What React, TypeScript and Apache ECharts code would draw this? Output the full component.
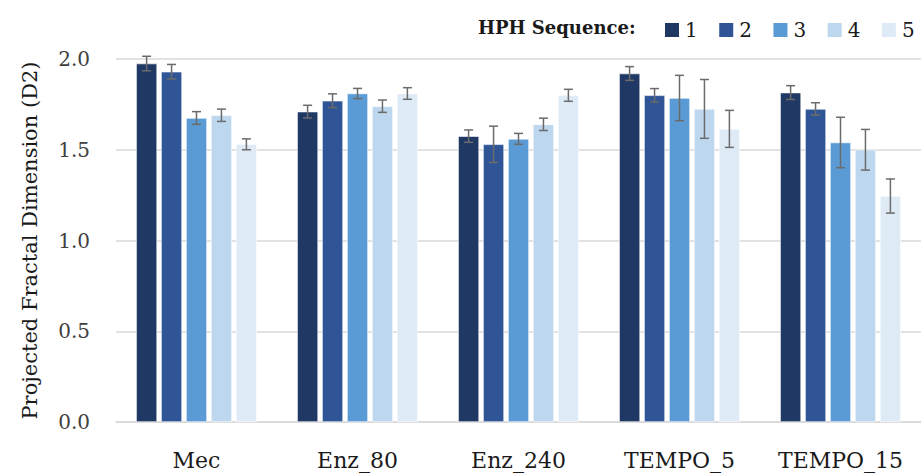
import React, { useEffect, useRef } from "react";
import * as echarts from "echarts";

const categories = ["Mec", "Enz_80", "Enz_240", "TEMPO_5", "TEMPO_15"];
const seriesNames = ["1", "2", "3", "4", "5"];
const colors = ["#203864", "#2F5597", "#5B9BD5", "#BDD7EE", "#DEEBF7"];

// values per sequence (series) across categories
const seq1 = [1.975, 1.71, 1.575, 1.92, 1.815];
const seq2 = [1.93, 1.77, 1.53, 1.8, 1.725];
const seq3 = [1.675, 1.81, 1.56, 1.785, 1.54];
const seq4 = [1.69, 1.74, 1.64, 1.725, 1.5];
const seq5 = [1.53, 1.81, 1.8, 1.615, 1.245];

const err1 = [0.04, 0.035, 0.034, 0.038, 0.038];
const err2 = [0.04, 0.038, 0.1, 0.037, 0.034];
const err3 = [0.035, 0.028, 0.03, 0.125, 0.139];
const err4 = [0.034, 0.034, 0.034, 0.162, 0.112];
const err5 = [0.03, 0.032, 0.033, 0.102, 0.094];

const yTicks = [0, 0.5, 1.0, 1.5, 2.0];

const values = [seq1, seq2, seq3, seq4, seq5];
const errors = [err1, err2, err3, err4, err5];

const FONT = "'DejaVu Serif', serif";
const CAT_GAP = 0.25;
const BAR_GAP = 0.19;

export default function App() {
  const ref = useRef<HTMLDivElement>(null);
  useEffect(() => {
    document.body.style.margin = "0";
    const chart = echarts.init(ref.current!, null, { renderer: "svg" });
    const n = seriesNames.length;
    const barSeries = seriesNames.map((name, i) => ({
      name,
      type: "bar",
      data: values[i],
      itemStyle: { color: colors[i], borderColor: "#ffffff", borderWidth: 0.6 },
      barCategoryGap: CAT_GAP * 100 + "%",
      barGap: BAR_GAP * 100 + "%",
    }));
    const errSeries = seriesNames.map((name, i) => ({
      name: "err" + name,
      type: "custom",
      data: values[i].map((v, j) => [j, v - errors[i][j], v + errors[i][j]]),
      z: 10,
      silent: true,
      renderItem: (params: any, api: any) => {
        const cat = api.value(0);
        const lo = api.value(1);
        const hi = api.value(2);
        const band = api.size([1, 0])[0];
        const bw = (band * (1 - CAT_GAP)) / (n + (n - 1) * BAR_GAP);
        const step = bw * (1 + BAR_GAP);
        const off = (i - (n - 1) / 2) * step;
        const pLo = api.coord([cat, lo]);
        const pHi = api.coord([cat, hi]);
        const x = pLo[0] + off;
        const cap = 4.5;
        const style = { stroke: "#6b6b6b", lineWidth: 1.5 };
        return {
          type: "group",
          children: [
            { type: "line", shape: { x1: x, y1: pLo[1], x2: x, y2: pHi[1] }, style },
            { type: "line", shape: { x1: x - cap, y1: pLo[1], x2: x + cap, y2: pLo[1] }, style },
            { type: "line", shape: { x1: x - cap, y1: pHi[1], x2: x + cap, y2: pHi[1] }, style },
          ],
        };
      },
    }));
    chart.setOption({
      animation: false,
      textStyle: { fontFamily: FONT },
      color: colors,
      grid: { left: 116, right: 0, top: 59, bottom: 53 },
      legend: {
        data: seriesNames,
        left: 663,
        top: 20,
        width: 258,
        padding: 0,
        itemWidth: 16,
        itemHeight: 16,
        itemGap: 19.5,
        icon: "rect",
        textStyle: { fontFamily: FONT, fontSize: 20, color: "#1a1a1a", padding: [0, 0, 0, 0] },
      },
      graphic: [
        {
          type: "text",
          left: 478,
          top: 18,
          style: {
            text: "HPH Sequence:",
            font: `bold 18px ${FONT}`,
            fill: "#1a1a1a",
          },
        },
      ],
      xAxis: {
        type: "category",
        data: categories,
        axisTick: { show: false },
        axisLine: { lineStyle: { color: "#d9d9d9", width: 1.5 } },
        axisLabel: { interval: 0, fontFamily: FONT, fontSize: 22, color: "#1a1a1a", margin: 27 },
      },
      yAxis: {
        type: "value",
        min: yTicks[0],
        max: yTicks[yTicks.length - 1],
        interval: 0.5,
        name: "Projected Fractal Dimension (D2)",
        nameLocation: "middle",
        nameGap: 76,
        nameTextStyle: { fontFamily: FONT, fontSize: 21, color: "#1a1a1a" },
        axisLabel: {
          fontFamily: FONT,
          fontSize: 20,
          color: "#404040",
          margin: 26,
          formatter: (v: number) => v.toFixed(1),
        },
        splitLine: { lineStyle: { color: "#d9d9d9", width: 1.5 } },
      },
      series: [...barSeries, ...errSeries],
    });
    return () => chart.dispose();
  }, []);
  return <div ref={ref} style={{ width: 921, height: 475 }} />;
}
